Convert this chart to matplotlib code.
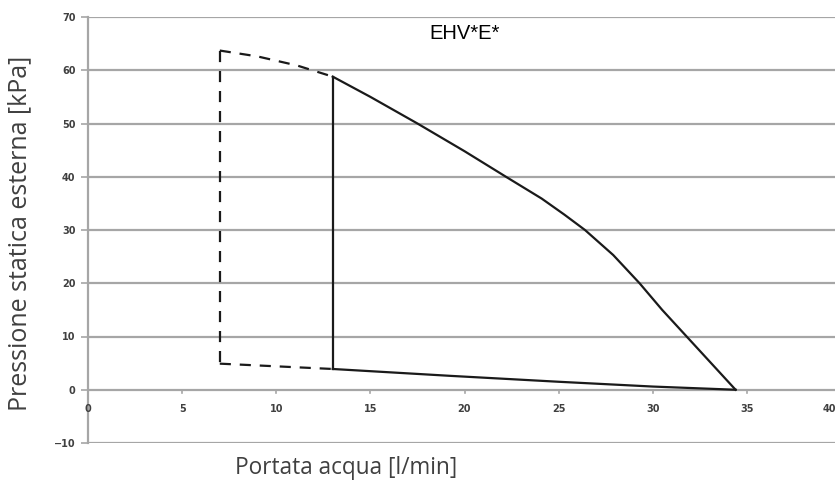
import matplotlib
matplotlib.use("Agg")
import matplotlib.pyplot as plt

# Data
curve_x = [13, 15, 17.5, 20, 22.2, 24.1, 25.3, 26.4, 27.9, 29.3, 30.5, 31.8, 33.1, 34.4]
curve_y = [58.8, 55.0, 50, 44.8, 40, 35.9, 32.9, 30, 25.3, 20, 15, 10, 5, 0]
bottom_x = [13, 19.3, 25, 30, 34.4]
bottom_y = [3.9, 2.6, 1.5, 0.6, 0]
vert_x = [13, 13]
vert_y = [3.9, 58.8]
dash_top_x = [7, 9, 11.1, 13]
dash_top_y = [63.7, 62.6, 60.9, 58.8]
dash_vert_x = [7, 7]
dash_vert_y = [63.7, 4.9]
dash_bot_x = [7, 13]
dash_bot_y = [4.9, 3.9]
xticks = [0, 5, 10, 15, 20, 25, 30, 35, 40]
yticks = [-10, 0, 10, 20, 30, 40, 50, 60, 70]
title = "EHV*E*"
xlabel = "Portata acqua [l/min]"
ylabel = "Pressione statica esterna [kPa]"

fig = plt.figure(figsize=(8.35, 4.93), dpi=100)
ax = fig.add_axes([88/835, 1-443/493, (841-88)/835, (443-17)/493])
ax.set_xlim(0, 40)
ax.set_ylim(-10, 70)

grid_c = "#a6a6a6"
for yv in yticks:
    ax.axhline(yv, color=grid_c, lw=1.6, zorder=1)
for s in ["top", "right", "bottom"]:
    ax.spines[s].set_visible(False)
ax.spines["left"].set_color(grid_c)
ax.spines["left"].set_linewidth(1.6)

ax.set_yticks(yticks)
ax.set_xticks([])
ax.tick_params(axis="y", direction="out", length=5, width=1.2, color=grid_c,
               labelsize=7, labelcolor="#404040", pad=4)
for lbl in ax.get_yticklabels():
    lbl.set_fontweight("bold")
for xv in xticks:
    ax.plot([xv, xv], [0, -0.7], color=grid_c, lw=1.2, zorder=1, clip_on=False)
    if xv == xticks[-1]:
        ax.text(39.75, -3.6, str(xv), ha="right", va="center", fontsize=7,
                color="#404040", fontweight="bold", clip_on=False)
    else:
        ax.text(xv, -3.6, str(xv), ha="center", va="center", fontsize=7,
                color="#404040", fontweight="bold", clip_on=False)

lc = "#1a1a1a"
ax.plot(curve_x, curve_y, color=lc, lw=1.6, zorder=3, solid_joinstyle="round")
ax.plot(bottom_x, bottom_y, color=lc, lw=1.6, zorder=3)
ax.plot(vert_x, vert_y, color=lc, lw=1.6, zorder=3)
ds = (0, (5, 4))
ax.plot(dash_top_x, dash_top_y, color=lc, lw=1.6, ls=ds, zorder=3)
ax.plot(dash_vert_x, dash_vert_y, color=lc, lw=1.6, ls=ds, zorder=3)
ax.plot(dash_bot_x, dash_bot_y, color=lc, lw=1.6, ls=ds, zorder=3)

ax.text(20.0, 66.9, title, ha="center", va="center", fontsize=14.5,
        family="Liberation Sans", color="black")

fig.text(346/835, 1-468/493, xlabel, ha="center", va="center", fontsize=16.3,
         family="Open Sans", color="#404040")
fig.text(20/835, 1-233/493, ylabel, ha="center", va="center", fontsize=18,
         family="Open Sans", color="#404040", rotation=90)

fig.savefig("out.png", dpi=100)
